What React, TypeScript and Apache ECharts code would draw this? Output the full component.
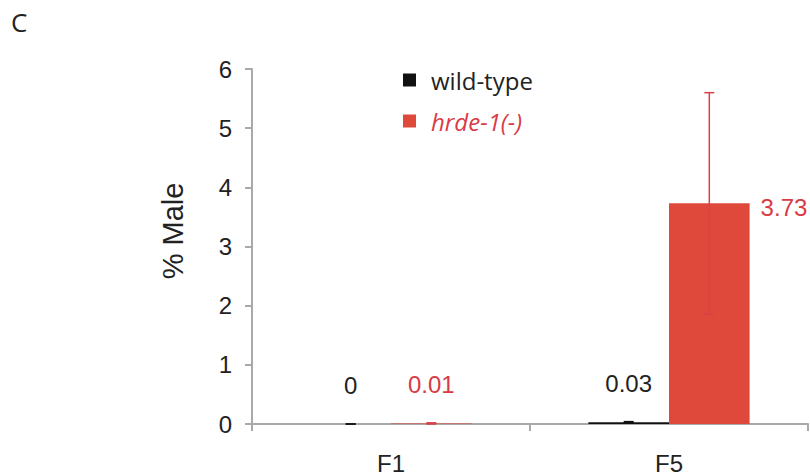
import React, { useEffect, useRef } from "react";
import * as echarts from "echarts";

const categories = ["F1", "F5"];
const wildType = [0, 0.03];
const wildTypeErr = [0, 0.01];
const hrde = [0.01, 3.73];
const hrdeErr = [0.01, 1.87];
const yTicks = [0, 1, 2, 3, 4, 5, 6];

const BLACK = "#111111";
const RED = "#df493c";
const RED_TEXT = "#d93a44";
const RED_ERR = "#d9404a";
const AXIS = "#a9a9a9";
const CAT_GAP = 0.42;

export default function App() {
  const ref = useRef<HTMLDivElement>(null);
  useEffect(() => {
    if (!ref.current) return;
    const chart = echarts.init(ref.current, null, { renderer: "svg" });

    const makeErr = (vals: number[], errs: number[], side: number, color: string) => ({
      type: "custom",
      z: 5,
      silent: true,
      data: vals.map((v, i) => [i, v, errs[i]]),
      encode: { x: 0, y: 1 },
      renderItem: (params: any, api: any) => {
        const idx = api.value(0);
        const v = api.value(1);
        const e = api.value(2);
        const band = api.size([1, 0])[0];
        const bw = (band * (1 - CAT_GAP)) / 2;
        const c = api.coord([idx, v]);
        const x = c[0] + (side * bw) / 2;
        const top = api.coord([idx, v + e])[1];
        const bot = api.coord([idx, Math.max(v - e, 0)])[1];
        const cap = 5;
        const style = { stroke: color, lineWidth: 1.5 };
        return {
          type: "group",
          children: [
            { type: "line", shape: { x1: x, y1: top, x2: x, y2: bot }, style },
            { type: "line", shape: { x1: x - cap, y1: top, x2: x + cap, y2: top }, style },
            { type: "line", shape: { x1: x - cap, y1: bot, x2: x + cap, y2: bot }, style },
          ],
        };
      },
    });

    chart.setOption({
      animation: false,
      textStyle: { fontFamily: "Liberation Sans, Arial, sans-serif" },
      grid: { left: 252, right: 2, top: 69, bottom: 48, containLabel: false },
      legend: {
        orient: "vertical",
        left: 398,
        top: 63,
        itemWidth: 13,
        itemHeight: 13,
        itemGap: 17,
        icon: "rect",
        textStyle: {
          fontFamily: "Open Sans, sans-serif",
          fontSize: 24,
          color: "#222",
          padding: [0, 0, 0, 10],
        },
        data: [
          { name: "wild-type" },
          { name: "hrde-1(-)", textStyle: { fontStyle: "italic", color: RED_TEXT } },
        ],
      },
      xAxis: {
        type: "category",
        data: categories,
        axisLine: { lineStyle: { color: AXIS, width: 2 } },
        axisTick: { show: true, length: 7, lineStyle: { color: AXIS, width: 2 } },
        axisLabel: { fontSize: 24, color: "#222", margin: 27 },
      },
      yAxis: {
        type: "value",
        min: 0,
        max: 6,
        interval: 1,
        splitLine: { show: false },
        axisLine: { show: true, lineStyle: { color: AXIS, width: 2 } },
        axisTick: { show: true, length: 7, lineStyle: { color: AXIS, width: 2 } },
        axisLabel: {
          fontSize: 24,
          color: "#222",
          margin: 20,
          formatter: (v: number) => (yTicks.includes(v) ? String(v) : ""),
        },
      },
      graphic: [
        {
          type: "text",
          left: 11,
          top: 9,
          style: { text: "C", fontFamily: "Open Sans, sans-serif", fontSize: 26, fill: "#222" },
        },
        {
          type: "text",
          x: 173,
          y: 231,
          rotation: Math.PI / 2,
          style: {
            text: "% Male",
            fontFamily: "Liberation Sans, Arial, sans-serif",
            fontSize: 29,
            fill: "#222",
            align: "center",
            verticalAlign: "middle",
          },
        },
      ],
      series: [
        {
          name: "wild-type",
          type: "bar",
          data: wildType,
          barGap: "0%",
          barCategoryGap: CAT_GAP * 100 + "%",
          itemStyle: { color: BLACK },
          label: {
            show: true,
            position: "top",
            distance: 27,
            fontSize: 24,
            color: "#222",
          },
        },
        {
          name: "hrde-1(-)",
          type: "bar",
          data: hrde.map((v, i) =>
            i === 1
              ? {
                  value: v,
                  label: {
                    position: ["100%", 0],
                    align: "left",
                    verticalAlign: "middle",
                    offset: [11, 4],
                  },
                }
              : v
          ),
          itemStyle: { color: RED },
          label: {
            show: true,
            position: "top",
            distance: 27,
            fontSize: 24,
            color: RED_TEXT,
          },
        },
        makeErr(wildType, wildTypeErr, -1, BLACK),
        makeErr(hrde, hrdeErr, 1, RED_ERR),
      ],
    });
    return () => chart.dispose();
  }, []);
  return <div ref={ref} style={{ width: 810, height: 475, position: "absolute", left: 0, top: 0 }} />;
}
